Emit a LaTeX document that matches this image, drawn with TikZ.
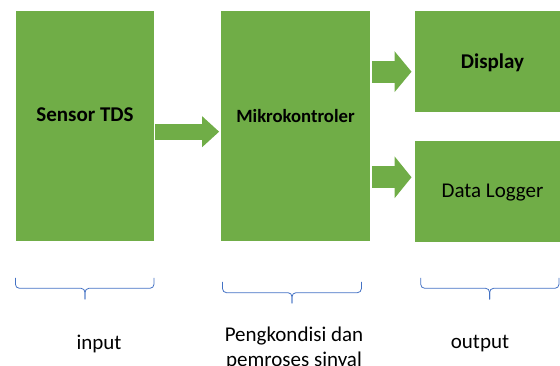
\documentclass[tikz,border=0pt]{standalone}
\usepackage{fontspec}
\setmainfont{Carlito}
\usetikzlibrary{arrows.meta}
\definecolor{boxgreen}{HTML}{70AD47}
\definecolor{bracketblue}{HTML}{4472C4}

\begin{document}
\begin{tikzpicture}[x=1pt, y=-1pt,
  block/.style={fill=boxgreen, inner sep=0pt},
  blocktext/.style={font=\bfseries\fontsize{21}{25}\selectfont},
  blockarrow/.style 2 args={draw=boxgreen, line width=#1,
    -{Triangle[length=17pt, width=#2, line width=0pt]}},
  bracket/.style={draw=bracketblue, line width=0.8pt, rounded corners=4pt},
  caption/.style={font=\fontsize{21}{25}\selectfont}]
  \useasboundingbox (0,0) rectangle (560,366);

  % Blocks
  \node[block, minimum width=138pt, minimum height=230pt,
    label={[blocktext, yshift=11pt]center:Sensor TDS}] (tds) at (85,126) {};
  \node[block, minimum width=149pt, minimum height=230pt,
    label={[blocktext, font=\bfseries\fontsize{18.7}{22}\selectfont, yshift=10pt]center:Mikrokontroler}] (mk) at (295.5,126) {};
  \node[block, minimum width=155pt, minimum height=100.5pt,
    label={[blocktext, yshift=-1.5pt]center:Display}] (disp) at (492.5,61.3) {};
  \node[block, minimum width=155pt, minimum height=100.5pt,
    label={[caption, yshift=-1.5pt]center:Data Logger}] (dl) at (492.5,191.3) {};

  % Arrows
  \draw[blockarrow={16pt}{31pt}, shorten <=1pt, shorten >=1.7pt]
    ([yshift=-5.7pt]tds.east) -- ([yshift=-5.7pt]mk.west);
  \draw[blockarrow={21.7pt}{41pt}, shorten <=1.7pt, shorten >=3.3pt]
    ([yshift=-10.4pt]disp.west -| mk.east) -- ([yshift=-10.4pt]disp.west);
  \draw[blockarrow={21.7pt}{42pt}, shorten <=1.7pt, shorten >=3.3pt]
    ([yshift=14pt]dl.west -| mk.east) -- ([yshift=14pt]dl.west);

  % Braces
  \draw[bracket] (15.4,278) -- (15.4,288.3) -- (85,288.3) -- (85,299.3);
  \draw[bracket] (154,278) -- (154,288.3) -- (85,288.3) -- (85,299.3);
  \draw[bracket] (222.5,282) -- (222.5,292.7) -- (292,292.7) -- (292,303.5);
  \draw[bracket] (361.4,282) -- (361.4,292.7) -- (292,292.7) -- (292,303.5);
  \draw[bracket] (420.7,278) -- (420.7,288.3) -- (489.6,288.3) -- (489.6,299.3);
  \draw[bracket] (559,278) -- (559,288.3) -- (489.6,288.3) -- (489.6,299.3);

  % Labels
  \node[caption] (inp) at (99,344) {input};
  \node[caption, align=center] (proc) at (294,348) {Pengkondisi dan\\pemroses sinyal};
  \node[caption] (outp) at (480,344) {output};
\end{tikzpicture}
\end{document}
